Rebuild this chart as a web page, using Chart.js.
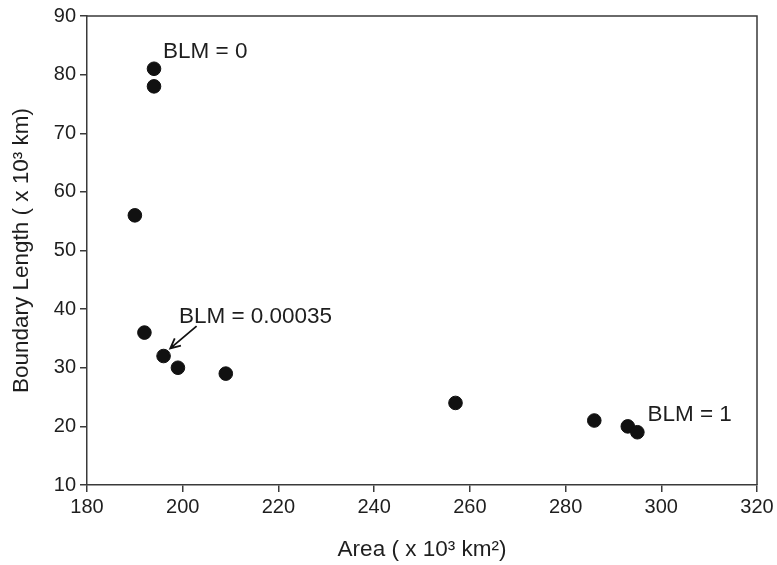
<!DOCTYPE html>
<html>
<head>
<meta charset="utf-8">
<script src="https://cdn.jsdelivr.net/npm/chart.js@4/dist/chart.umd.min.js"></script>
<style>
  html, body { margin: 0; padding: 0; background: #fff; }
  #wrap { width: 777px; height: 565px; }
</style>
</head>
<body>
<div id="wrap"><canvas id="blmChart" width="777" height="565"></canvas></div>
<script>
// Dados
const areaValues = [194, 194, 190, 192, 196, 199, 209, 257, 286, 293, 295];
const boundaryValues = [81, 78, 56, 36, 32, 30, 29, 24, 21, 20, 19];
const xTicks = [180, 200, 220, 240, 260, 280, 300, 320];
const yTicks = [10, 20, 30, 40, 50, 60, 70, 80, 90];

// Notas (coordenadas em unidades dos eixos)
const noteTexts = ['BLM = 0', 'BLM = 0.00035', 'BLM = 1'];
const noteX = [195.9, 199.2, 297.1];
const noteY = [82.9, 37.7, 20.9];
const arrowFrom = [202.9, 37.1];
const arrowTo = [197.4, 33.3];

const fontFamily = '"Liberation Sans", Arial, sans-serif';
const axisColor = '#3a3a3a';
const textColor = '#1e1e1e';

const points = areaValues.map((a, i) => ({ x: a, y: boundaryValues[i] }));

// moldura (topo e direita) + notas + seta
const extrasPlugin = {
    id: 'extras',
    afterDatasetsDraw(chart) {
        const ctx = chart.ctx;
        const area = chart.chartArea;
        const xs = chart.scales.x;
        const ys = chart.scales.y;
        ctx.save();
        ctx.strokeStyle = axisColor;
        ctx.lineWidth = 1.5;
        ctx.beginPath();
        ctx.moveTo(area.left, area.top);
        ctx.lineTo(area.right, area.top);
        ctx.lineTo(area.right, area.bottom);
        ctx.stroke();

        ctx.fillStyle = textColor;
        ctx.font = '22.5px ' + fontFamily;
        ctx.textBaseline = 'alphabetic';
        ctx.textAlign = 'left';
        noteTexts.forEach((t, i) => {
            ctx.fillText(t, xs.getPixelForValue(noteX[i]), ys.getPixelForValue(noteY[i]));
        });

        const x1 = xs.getPixelForValue(arrowFrom[0]);
        const y1 = ys.getPixelForValue(arrowFrom[1]);
        const x2 = xs.getPixelForValue(arrowTo[0]);
        const y2 = ys.getPixelForValue(arrowTo[1]);
        const ang = Math.atan2(y2 - y1, x2 - x1);
        ctx.strokeStyle = '#111';
        ctx.lineWidth = 1.8;
        ctx.beginPath();
        ctx.moveTo(x1, y1);
        ctx.lineTo(x2, y2);
        ctx.moveTo(x2 - 11 * Math.cos(ang - 0.45), y2 - 11 * Math.sin(ang - 0.45));
        ctx.lineTo(x2, y2);
        ctx.lineTo(x2 - 11 * Math.cos(ang + 0.45), y2 - 11 * Math.sin(ang + 0.45));
        ctx.stroke();
        ctx.restore();
    }
};

const blmChart = new Chart(document.getElementById('blmChart').getContext('2d'), {
    type: 'scatter',
    data: {
        datasets: [{
            data: points,
            backgroundColor: '#111',
            borderColor: '#111',
            pointRadius: 6.8,
            pointHoverRadius: 6.8
        }]
    },
    options: {
        responsive: false,
        animation: false,
        events: [],
        layout: { padding: { top: 15, right: 20, left: 0, bottom: 0 } },
        plugins: { legend: { display: false }, tooltip: { enabled: false } },
        scales: {
            x: {
                type: 'linear',
                min: 180,
                max: 320,
                afterBuildTicks: (s) => { s.ticks = xTicks.map(v => ({ value: v })); },
                afterFit: (s) => { s.height = 80; },
                border: { display: true, color: axisColor, width: 1.5 },
                grid: { drawOnChartArea: false, drawTicks: true, tickLength: 7, tickColor: axisColor, lineWidth: 1.5 },
                ticks: { color: textColor, font: { size: 20, family: fontFamily }, padding: 3, maxRotation: 0 },
                title: {
                    display: true,
                    text: 'Area ( x 10³ km²)',
                    color: textColor,
                    font: { size: 22.5, family: fontFamily },
                    padding: { top: 0, bottom: 2 }
                }
            },
            y: {
                type: 'linear',
                min: 10,
                max: 90,
                afterBuildTicks: (s) => { s.ticks = yTicks.map(v => ({ value: v })); },
                afterFit: (s) => { s.width = 87; },
                border: { display: true, color: axisColor, width: 1.5 },
                grid: { drawOnChartArea: false, drawTicks: true, tickLength: 7, tickColor: axisColor, lineWidth: 1.5 },
                ticks: { color: textColor, font: { size: 20, family: fontFamily }, padding: 4 },
                title: {
                    display: true,
                    text: 'Boundary Length ( x 10³ km)',
                    color: textColor,
                    font: { size: 22.5, family: fontFamily },
                    padding: { top: 8, bottom: 0 }
                }
            }
        }
    },
    plugins: [extrasPlugin]
});
</script>
</body>
</html>
